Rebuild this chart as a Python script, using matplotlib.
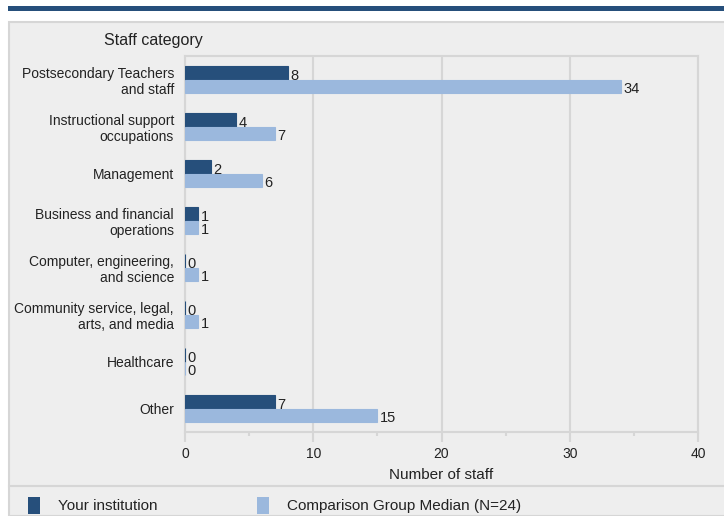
import numpy as np
import matplotlib
matplotlib.use("Agg")
from matplotlib import pyplot as plt
from matplotlib.patches import Rectangle

categories = ["Postsecondary Teachers\nand staff",
              "Instructional support\noccupations",
              "Management",
              "Business and financial\noperations",
              "Computer, engineering,\nand science",
              "Community service, legal,\narts, and media",
              "Healthcare",
              "Other"]
your_inst = [8, 4, 2, 1, 0, 0, 0, 7]
comparison = [34, 7, 6, 1, 1, 1, 0, 15]
series_names = ["Your institution", "Comparison Group Median (N=24)"]
xticks = [0, 10, 20, 30, 40]

dark = "#264f7b"
light = "#9bb8dd"
panel = "#eeeeee"
edge = "#d6d6d6"

plt.rcParams['font.family'] = ['Liberation Sans', 'DejaVu Sans']

fig = plt.figure(figsize=(7.24, 5.16), dpi=100)
fig.patch.set_facecolor("white")

W, H = 724.0, 516.0
def fx(px):
    return px / W
def fy(py):
    return 1 - py / H

# top banner and panel background
fig.patches.append(Rectangle((fx(8), fy(11)), fx(716), 4.5 / H, transform=fig.transFigure,
                             facecolor=dark, edgecolor="none", zorder=0))
fig.patches.append(Rectangle((fx(9), fy(516)), fx(720), (516 - 22) / H, transform=fig.transFigure,
                             facecolor=panel, edgecolor=edge, linewidth=1.5, zorder=0))
fig.lines.append(plt.Line2D([fx(9), 1], [fy(486), fy(486)], transform=fig.transFigure,
                            color=edge, linewidth=1.5, zorder=1))

ax = fig.add_axes([fx(185), fy(432), fx(698 - 185), (432 - 56) / H])
ax.set_zorder(5)
ax.set_facecolor(panel)

y = np.arange(len(categories))
h = 0.285
b1 = ax.barh(y - h / 2, your_inst, height=h, color=dark, edgecolor=dark, linewidth=0.8, zorder=3)
b2 = ax.barh(y + h / 2, comparison, height=h, color=light, edgecolor=light, linewidth=0.8, zorder=3)

for bars, vals in ((b1, your_inst), (b2, comparison)):
    for bar, v in zip(bars, vals):
        ax.text(v + 0.2, bar.get_y() + bar.get_height() / 2 + 0.06, str(v),
                va="center", ha="left", fontsize=10.5, color="#222222", zorder=4)

ax.set_xlim(0, 40)
ax.set_ylim(len(categories) - 0.5, -0.5)
ax.set_yticks(y)
ax.set_yticklabels(categories, fontsize=10, color="#222222", linespacing=1.15)
ax.set_xticks(xticks)
ax.set_xticks([5, 15, 25, 35], minor=True)
ax.tick_params(axis="y", length=0, pad=8)
ax.tick_params(axis="x", which="major", length=7, width=1.5, color=edge, labelsize=10,
               labelcolor="#222222", pad=4)
ax.tick_params(axis="x", which="minor", length=3, width=1.5, color=edge)
ax.grid(axis="x", color=edge, linewidth=1.5, zorder=0)
for s in ax.spines.values():
    s.set_color(edge)
    s.set_linewidth(1.5)
ax.set_xlabel("Number of staff", fontsize=11, color="#222222", labelpad=5)

fig.text(fx(104), fy(41), "Staff category", fontsize=11.5, color="#222222", va="center", ha="left")

# legend
for i, (name, col) in enumerate(zip(series_names, (dark, light))):
    x0 = [28, 257][i]
    fig.patches.append(Rectangle((fx(x0), fy(514)), fx(12), 17 / H, transform=fig.transFigure,
                                 facecolor=col, edgecolor="none"))
    fig.text(fx(x0 + 30), fy(506), name, fontsize=11, color="#222222", va="center", ha="left")

fig.savefig("out.png", dpi=100, facecolor=fig.get_facecolor())
